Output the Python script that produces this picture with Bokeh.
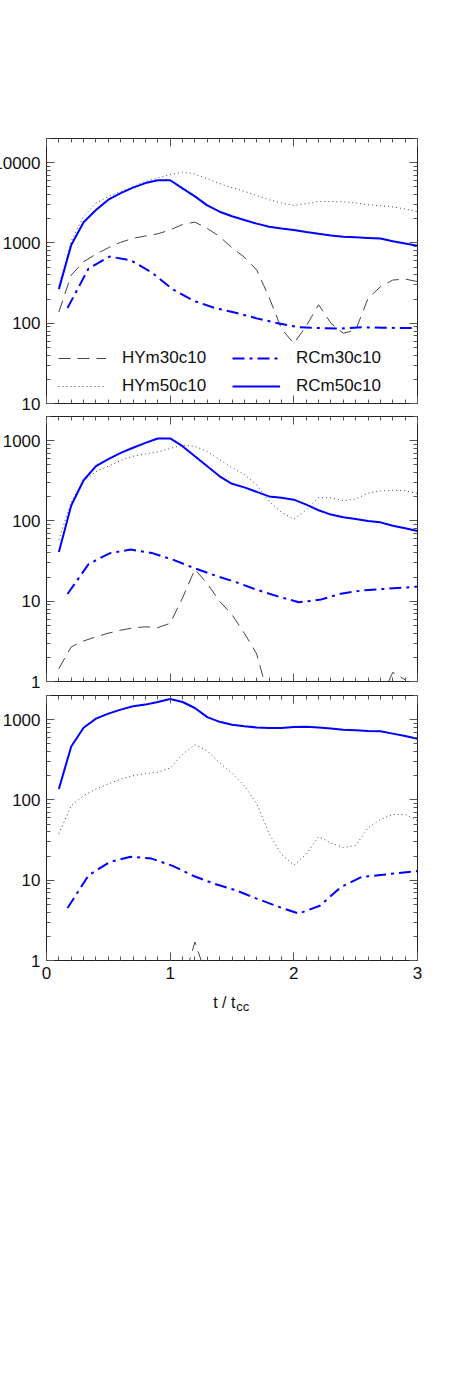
from bokeh.plotting import figure
from bokeh.layouts import column
from bokeh.models import (Range1d, FixedTicker, SingleIntervalTicker, LinearAxis, LogAxis,
                          BasicTickFormatter, Legend, LegendItem, Label)
from bokeh.embed import file_html
from bokeh.resources import INLINE

# ---------------- data ----------------
t_grid = [0.1, 0.2, 0.3, 0.4, 0.5, 0.6, 0.7, 0.8, 0.9, 1.0,
          1.1, 1.2, 1.3, 1.4, 1.5, 1.6, 1.7, 1.8, 1.9, 2.0,
          2.1, 2.2, 2.3, 2.4, 2.5, 2.6, 2.7, 2.8, 2.9, 3.0]
t_rc30 = [0.17, 0.34, 0.51, 0.68, 0.85, 1.02, 1.19, 1.36, 1.53, 1.70,
          1.87, 2.04, 2.21, 2.38, 2.55, 2.72, 2.89, 3.0]

series_names = ["HYm30c10", "HYm50c10", "RCm30c10", "RCm50c10"]

# panel 1
p1_hy30 = [138, 398, 584, 725, 870, 1020, 1140, 1220, 1300, 1450,
           1700, 1815, 1520, 1200, 870, 665, 460, 210, 85, 56,
           92, 170, 100, 75, 82, 204, 285, 345, 355, 330]
p1_hy50 = [290, 1060, 2130, 3130, 3800, 4370, 5030, 5830, 6440, 7080,
           7600, 7240, 6300, 5500, 4880, 4400, 3900, 3450, 3150, 2925,
           3100, 3280, 3280, 3250, 3150, 3000, 2900, 2820, 2650, 2450]
p1_rc30 = [155, 480, 676, 610, 430, 265, 190, 155, 135, 115,
           100, 89, 87, 86, 89, 88, 87, 87]
p1_rc50 = [266, 944, 1815, 2570, 3460, 4170, 4880, 5570, 6040, 6040,
           4790, 3800, 2940, 2450, 2150, 1930, 1740, 1590, 1510, 1450,
           1370, 1300, 1240, 1195, 1175, 1155, 1133, 1050, 985, 920]

# panel 2
p2_hy30 = [1.45, 2.7, 3.2, 3.6, 4.0, 4.36, 4.65, 4.8, 4.7, 5.3,
           11, 25, 16.5, 10, 6.8, 4.0, 2.2, 0.6, 0.3, 0.2,
           0.2, 0.2, 0.2, 0.2, 0.2, 0.3, 0.6, 1.3, 1.05, 0.5]
p2_hy50 = [58, 175, 312, 415, 481, 565, 640, 684, 725, 800,
           880, 850, 730, 580, 460, 380, 280, 175, 128, 106,
           137, 196, 194, 178, 188, 222, 236, 240, 238, 220]
p2_rc30 = [12.3, 29, 39.5, 44, 40, 33, 26, 21, 17.3, 13.9,
           11.5, 9.7, 10.4, 12.4, 13.6, 14.2, 14.8, 15.2]
p2_rc50 = [41, 156, 321, 481, 590, 705, 817, 939, 1066, 1066,
           853, 640, 481, 360, 290, 262, 230, 202, 195, 184,
           160, 136, 120, 111, 106, 100, 96, 87, 81, 75]

# panel 3
p3_hy30_t = [1.0, 1.1, 1.2, 1.3, 1.4]
p3_hy30 = [0.3, 0.5, 1.7, 0.6, 0.3]
p3_hy50 = [38, 85, 113, 137, 158, 182, 200, 214, 221, 251,
           370, 487, 410, 290, 215, 150, 90, 38, 21, 15.5,
           21, 35, 29, 25.6, 27, 45, 57, 66, 66, 55]
p3_rc30 = [4.5, 11.5, 16.8, 19.6, 18.6, 15.1, 11.3, 9.0, 7.5, 5.9,
           4.7, 3.85, 4.8, 8.2, 11.0, 11.7, 12.5, 13]
p3_rc50 = [137, 464, 794, 1030, 1190, 1333, 1466, 1540, 1660, 1810,
           1660, 1397, 1075, 940, 865, 830, 800, 785, 790, 811,
           815, 800, 775, 750, 740, 725, 718, 670, 625, 580]

x_title_main = "t / t"
x_title_sub = "cc"

# ---------------- styling ----------------
FONT = "Liberation Sans"
FS = "17px"
GRAY = "#444444"
BLUE = "#0000ff"
STYLES = {
    "HYm30c10": dict(line_color=GRAY, line_width=1, line_dash="12 7"),
    "HYm50c10": dict(line_color=GRAY, line_width=1, line_dash="1 3"),
    "RCm30c10": dict(line_color=BLUE, line_width=2, line_dash="12 5 3 5"),
    "RCm50c10": dict(line_color=BLUE, line_width=2),
}
MINOR_Y = [m * 10 ** k for k in range(0, 5) for m in range(2, 10)]


def style_axis(ax, show_labels):
    ax.axis_line_color = None
    ax.major_tick_in = 8
    ax.major_tick_out = 0
    ax.minor_tick_in = 4
    ax.minor_tick_out = 0
    ax.major_tick_line_color = "#555555"
    ax.minor_tick_line_color = "#555555"
    if show_labels:
        ax.major_label_text_font = FONT
        ax.major_label_text_font_size = FS
        ax.major_label_text_color = "#111111"
    else:
        ax.major_label_text_font_size = "1px"
        ax.major_label_text_color = None
        ax.major_label_standoff = 0


def make_panel(ymin, ymax, yticks, data, show_x, top_border, bottom_border):
    p = figure(frame_width=371, frame_height=265,
               x_range=Range1d(0, 3), y_range=Range1d(ymin, ymax),
               y_axis_type="log", output_backend="svg", toolbar_location=None,
               min_border_left=60, min_border_right=10,
               min_border_top=top_border, min_border_bottom=bottom_border)
    p.xgrid.visible = False
    p.ygrid.visible = False
    p.outline_line_color = "#222222"
    p.outline_line_width = 1
    p.background_fill_color = "white"
    p.border_fill_color = "white"

    xt = SingleIntervalTicker(interval=1, num_minor_ticks=10)
    yt = FixedTicker(ticks=yticks, minor_ticks=MINOR_Y)

    p.xaxis.ticker = xt
    style_axis(p.xaxis[0], show_x)
    if show_x:
        p.xaxis.major_label_standoff = 6
    p.yaxis.ticker = yt
    p.yaxis.formatter = BasicTickFormatter(use_scientific=False)
    style_axis(p.yaxis[0], True)
    p.yaxis.major_label_standoff = 6

    top = LinearAxis(ticker=xt)
    style_axis(top, False)
    p.add_layout(top, "above")
    right = LogAxis(ticker=yt)
    style_axis(right, False)
    p.add_layout(right, "right")

    renderers = {}
    for name, (xs, ys) in data.items():
        renderers[name] = p.line(xs, ys, **STYLES[name])
    return p, renderers


p1, r1 = make_panel(10, 20000, [10, 100, 1000, 10000],
                    {"HYm30c10": (t_grid, p1_hy30), "HYm50c10": (t_grid, p1_hy50),
                     "RCm30c10": (t_rc30, p1_rc30), "RCm50c10": (t_grid, p1_rc50)},
                    False, 138, 10)
p2, r2 = make_panel(1, 2000, [1, 10, 100, 1000],
                    {"HYm30c10": (t_grid, p2_hy30), "HYm50c10": (t_grid, p2_hy50),
                     "RCm30c10": (t_rc30, p2_rc30), "RCm50c10": (t_grid, p2_rc50)},
                    False, 3, 10)
p3, r3 = make_panel(1, 2000, [1, 10, 100, 1000],
                    {"HYm30c10": (p3_hy30_t, p3_hy30), "HYm50c10": (t_grid, p3_hy50),
                     "RCm30c10": (t_rc30, p3_rc30), "RCm50c10": (t_grid, p3_rc50)},
                    True, 4, 28)

legend = Legend(items=[LegendItem(label=n, renderers=[r1[n]]) for n in series_names],
                location=(12, 7), orientation="vertical", ncols=2,
                glyph_width=48, glyph_height=20, label_standoff=16,
                label_width=102, label_height=20, spacing=8,
                padding=0, border_line_color=None,
                background_fill_alpha=0,
                label_text_font=FONT, label_text_font_size=FS,
                label_text_color="#111111")
p1.add_layout(legend)

# strip below the bottom panel carrying the x-axis title (with its subscript)
pt = figure(frame_width=371, frame_height=30, x_range=Range1d(0, 3), y_range=Range1d(0, 30),
            output_backend="svg", toolbar_location=None,
            x_axis_location=None, y_axis_location=None,
            min_border_left=60, min_border_right=10, min_border_top=0, min_border_bottom=0)
pt.xgrid.visible = False
pt.ygrid.visible = False
pt.outline_line_color = None
pt.background_fill_color = "white"
pt.border_fill_color = "white"
pt.add_layout(Label(x=1.348, y=16, text=x_title_main,
                    text_font=FONT, text_font_size="16px", text_color="#111111",
                    text_baseline="alphabetic", text_align="left"))
pt.add_layout(Label(x=1.534, y=12, text=x_title_sub,
                    text_font=FONT, text_font_size="13px", text_color="#111111",
                    text_baseline="alphabetic", text_align="left"))

layout = column(p1, p2, p3, pt, spacing=0, styles={"margin-left": "-14px"})

open("out.html", "w").write(file_html(layout, INLINE))
